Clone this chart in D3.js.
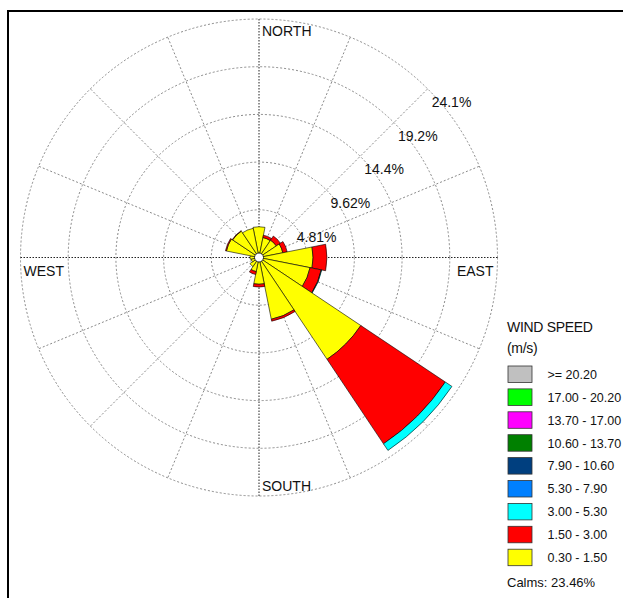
<!DOCTYPE html>
<html>
<head>
<meta charset="utf-8">
<script src="https://cdn.jsdelivr.net/npm/d3@7"></script>
<style>
  html, body { margin: 0; padding: 0; background: #fff; }
  svg { display: block; font-family: "Liberation Sans", Arial, sans-serif; }
</style>
</head>
<body>
<svg id="chart" width="623" height="598"></svg>
<script>
// ---- data ----
const directions = ["N","NNE","NE","ENE","E","ESE","SE","SSE","S","SSW","SW","WSW","W","WNW","NW","NNW"];
// frequency (%) per speed class per direction
const speed0315 = [3.1, 2.05, 2.1, 2.45, 5.45, 5.25, 12.35, 6.35, 2.7, 1.45, 1.1, 0.8, 0.9, 3.35, 3.2, 3.0];
const speed1530 = [0, 0.25, 0.5, 0.45, 1.4, 1.15, 10.25, 0.2, 0.28, 0.3, 0, 0, 0, 0.1, 0.05, 0];
const speed3053 = [0, 0, 0, 0, 0, 0.05, 0.8, 0, 0, 0, 0, 0, 0, 0, 0, 0];
const seriesValues = [speed0315, speed1530, speed3053];
const seriesColors = ["#FFFF00", "#FF0000", "#00FFFF"];

const ringValues = [4.81, 9.62, 14.43, 19.24, 24.05];
const ringLabels = ["4.81%", "9.62%", "14.4%", "19.2%", "24.1%"];
const cardinalLabels = ["NORTH", "EAST", "SOUTH", "WEST"];

const legendTitle = ["WIND SPEED", "(m/s)"];
const legendLabels = [">= 20.20", "17.00 - 20.20", "13.70 - 17.00", "10.60 - 13.70", "7.90 - 10.60", "5.30 - 7.90", "3.00 - 5.30", "1.50 - 3.00", "0.30 - 1.50"];
const legendColors = ["#C0C0C0", "#00FF00", "#FF00FF", "#008000", "#003F7F", "#0080FF", "#00FFFF", "#FF0000", "#FFFF00"];
const calmsText = "Calms: 23.46%";

// ---- layout ----
const svg = d3.select("#chart");
const cx = 259, cy = 257.5, R = 238.5;
const r = d3.scaleLinear().domain([0, 24.05]).range([0, R]);
const step = 2 * Math.PI / directions.length;
const ang = d3.scaleLinear().domain([0, directions.length]).range([0, 2 * Math.PI]);

svg.append("rect").attr("x", 0).attr("y", 0).attr("width", 623).attr("height", 598).attr("fill", "#fff");
// frame
svg.append("rect").attr("x", 8).attr("y", 11).attr("width", 800).attr("height", 800)
  .attr("fill", "none").attr("stroke", "#000").attr("stroke-width", 2);

const g = svg.append("g").attr("transform", `translate(${cx},${cy})`);

// grid rings
g.selectAll("circle.ring").data(ringValues).enter().append("circle")
  .attr("class", "ring").attr("r", d => r(d))
  .attr("fill", "none").attr("stroke", "#8a8a8a").attr("stroke-width", 1)
  .attr("stroke-dasharray", "2,2");

// spokes
g.selectAll("line.spoke").data(directions).enter().append("line")
  .attr("x1", 0).attr("y1", 0)
  .attr("x2", (d, i) => r(24.05) * Math.sin(ang(i)))
  .attr("y2", (d, i) => -r(24.05) * Math.cos(ang(i)))
  .attr("stroke", (d, i) => i % 4 === 0 ? "#222" : "#8a8a8a")
  .attr("stroke-width", 1)
  .attr("stroke-dasharray", (d, i) => i % 4 === 0 ? "1.5,1.5" : "2,2");

// petals
const arc = d3.arc();
directions.forEach((dir, i) => {
  let cum = 0;
  seriesValues.forEach((vals, k) => {
    const v = vals[i];
    if (v <= 0) return;
    const inner = cum, outer = cum + v;
    cum = outer;
    g.append("path")
      .attr("d", arc({
        innerRadius: r(inner), outerRadius: r(outer),
        startAngle: ang(i) - step / 2, endAngle: ang(i) + step / 2
      }))
      .attr("fill", seriesColors[k])
      .attr("stroke", "#000").attr("stroke-width", 0.6);
  });
});

// calm circle
g.append("circle").attr("r", 4.5).attr("fill", "#fff").attr("stroke", "#000").attr("stroke-width", 0.8);

// ring labels
g.selectAll("text.rl").data(ringValues).enter().append("text")
  .attr("x", d => r(d) * Math.SQRT1_2 + 4)
  .attr("y", d => -r(d) * Math.SQRT1_2 + 18)
  .attr("font-size", 14).attr("fill", "#111")
  .text((d, i) => ringLabels[i]);

// cardinal labels
g.append("text").attr("x", 3).attr("y", -R + 17).attr("font-size", 14).attr("fill", "#111").text(cardinalLabels[0]);
g.append("text").attr("x", R - 4).attr("y", 18).attr("text-anchor", "end").attr("font-size", 14).attr("fill", "#111").text(cardinalLabels[1]);
g.append("text").attr("x", 3).attr("y", R - 5).attr("font-size", 14).attr("fill", "#111").text(cardinalLabels[2]);
g.append("text").attr("x", -R + 3).attr("y", 18).attr("font-size", 14).attr("fill", "#111").text(cardinalLabels[3]);

// legend
const lg = svg.append("g");
lg.selectAll("text.title").data(legendTitle).enter().append("text")
  .attr("x", 507).attr("y", (d, i) => 332 + i * 21)
  .attr("font-size", 14).attr("letter-spacing", -0.3).attr("fill", "#111").text(d => d);

const ly = d3.scaleLinear().domain([0, 1]).range([366, 388.9]);
lg.selectAll("rect.box").data(legendColors).enter().append("rect")
  .attr("x", 508).attr("y", (d, i) => ly(i)).attr("width", 24).attr("height", 16.5)
  .attr("fill", d => d).attr("stroke", "#333").attr("stroke-width", 0.8);
lg.selectAll("text.lab").data(legendLabels).enter().append("text")
  .attr("x", 547.5).attr("y", (d, i) => ly(i) + 8.5).attr("dy", "0.35em")
  .attr("font-size", 12.5).attr("fill", "#111").text(d => d);
lg.append("text").attr("x", 507).attr("y", 587).attr("font-size", 13).attr("fill", "#111").text(calmsText);
</script>
</body>
</html>
